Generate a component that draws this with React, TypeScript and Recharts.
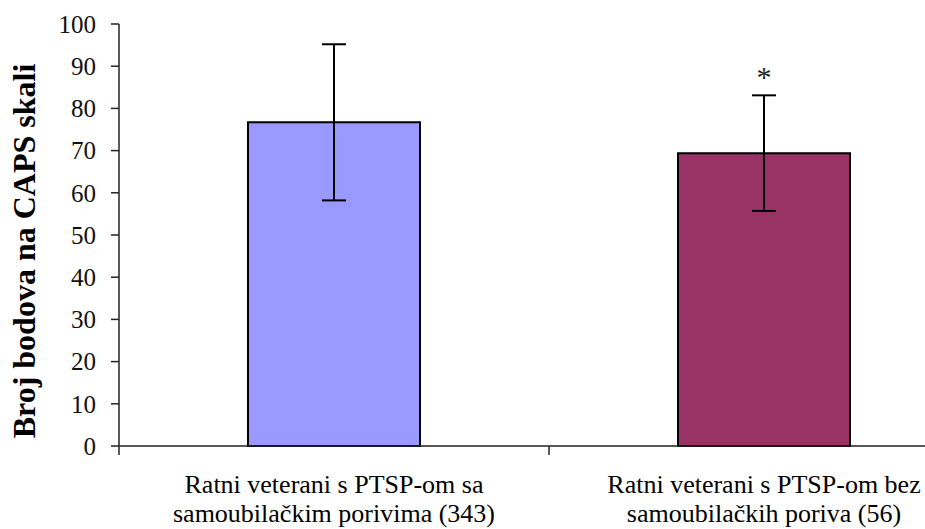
import React from 'react';
import { BarChart, Bar, XAxis, YAxis, ErrorBar, Cell, LabelList } from 'recharts';

// Groups, two lines each (label is split at the newline)
const CATEGORIES = [
  'Ratni veterani s PTSP-om sa\nsamoubilačkim porivima (343)',
  'Ratni veterani s PTSP-om bez\nsamoubilačkih poriva (56)',
];
const MEANS = [76.7, 69.4];
const SDS = [18.5, 13.7];
const SIGNIFICANCE = ['', '*'];
const BAR_COLORS = ['#9999FF', '#993366'];
const Y_TICKS = [0, 10, 20, 30, 40, 50, 60, 70, 80, 90, 100];
const Y_LABEL = 'Broj bodova na CAPS skali';

const data = CATEGORIES.map((name, i) => ({
  name,
  mean: MEANS[i],
  sd: SDS[i],
  sig: SIGNIFICANCE[i],
}));

const FONT = '"Liberation Serif", "Times New Roman", serif';
const AXIS_COLOR = '#222';

// category label plus the boundary tick marks between groups
const CategoryTick = (props: any) => {
  const { x, y, payload, index } = props;
  const lines = String(payload.value).split('\n');
  const half = payload.offset;
  return (
    <g>
      <line x1={x - half} x2={x - half} y1={y - 9} y2={y} stroke={AXIS_COLOR} strokeWidth={1.5} />
      {index === CATEGORIES.length - 1 && (
        <line x1={x + half} x2={x + half} y1={y - 9} y2={y} stroke={AXIS_COLOR} strokeWidth={1.5} />
      )}
      <text x={x} y={y} textAnchor="middle" fontFamily={FONT} fontSize={26} fill="#000">
        <tspan x={x} dy={38}>{lines[0]}</tspan>
        <tspan x={x} dy={29}>{lines[1]}</tspan>
      </text>
    </g>
  );
};

const AxisTitle = (props: any) => {
  const { viewBox } = props;
  const cx = viewBox.x + 35;
  const cy = viewBox.y + viewBox.height / 2 + 16;
  return (
    <text
      x={cx}
      y={cy}
      transform={`rotate(-90, ${cx}, ${cy})`}
      textAnchor="middle"
      fontFamily={FONT}
      fontWeight="bold"
      fontSize={32}
      fill="#000"
    >
      {Y_LABEL}
    </text>
  );
};

export default function App() {
  return (
    <div
      style={{
        position: 'absolute',
        left: 0,
        top: 0,
        width: 925,
        height: 529,
        overflow: 'hidden',
        background: '#fff',
      }}
    >
      <BarChart width={990} height={529} data={data} margin={{ top: 24, right: 11, left: 0, bottom: 0 }}>
        <YAxis
          width={119}
          domain={[0, 100]}
          ticks={Y_TICKS}
          interval={0}
          tickSize={8}
          tickMargin={15}
          axisLine={{ stroke: AXIS_COLOR, strokeWidth: 1.5 }}
          tickLine={{ stroke: AXIS_COLOR, strokeWidth: 1.5 }}
          tick={{ fontFamily: FONT, fontSize: 25, fill: '#111' }}
          label={<AxisTitle />}
        />
        <XAxis
          dataKey="name"
          height={83}
          interval={0}
          tickSize={9}
          tickMargin={0}
          tickLine={false}
          axisLine={{ stroke: AXIS_COLOR, strokeWidth: 1.5 }}
          tick={<CategoryTick />}
        />
        <Bar dataKey="mean" barSize={172} stroke="#000" strokeWidth={2} isAnimationActive={false}>
          {data.map((d, i) => (
            <Cell key={d.name} fill={BAR_COLORS[i]} />
          ))}
          <ErrorBar dataKey="sd" width={12} stroke="#000" strokeWidth={2} isAnimationActive={false} />
          <LabelList dataKey="sig" position="top" offset={66} fontFamily={FONT} fontSize={30} fill="#222" />
        </Bar>
      </BarChart>
    </div>
  );
}
